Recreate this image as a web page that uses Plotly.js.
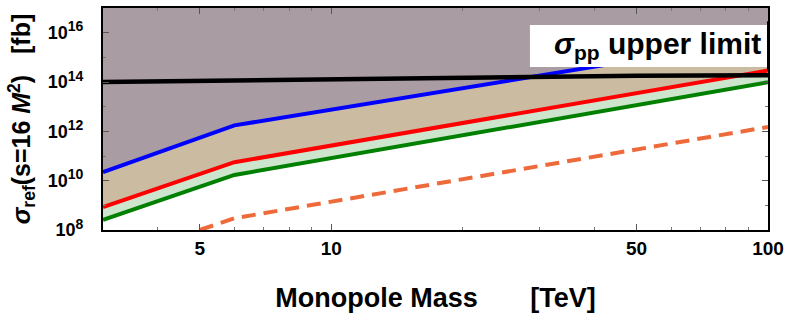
<!DOCTYPE html>
<html>
<head>
<meta charset="utf-8">
<script src="https://cdn.plot.ly/plotly-3.0.1.min.js"></script>
<style>html,body{margin:0;padding:0;background:#fff;} #chart{width:789px;height:314px;}</style>
</head>
<body>
<div id="chart"></div>
<script>
// Monopole mass [TeV]
var mass = [3, 6, 100];
// sigma_ref curves [fb]
var blueVals  = [2.2e10, 1.74e12, 5.9e15];
var redVals   = [8.5e8, 5.6e10, 2.9e14];
var greenVals = [2.6e8, 1.7e10, 9.8e13];
// dashed orange curve
var orangeMass = [5, 6, 100];
var orangeVals = [1.0e8, 3.0e8, 1.5e12];
// sigma_pp upper limit (black)
var limitMass = [3, 6, 10, 15, 25, 50, 100];
var limitVals = [1.0e14, 1.15e14, 1.29e14, 1.41e14, 1.62e14, 1.78e14, 1.86e14];
// axis tick labels
var xTickVals = [5, 10, 50, 100];
var xTickText = ['5', '10', '50', '100'];
var yTickVals = [1e8, 1e10, 1e12, 1e14, 1e16];
var yExponents = ['8', '10', '12', '14', '16'];
var yTop = 1e17;

var FONT = 'Liberation Sans, Arial, Helvetica, sans-serif';
var topVals = mass.map(function(){ return yTop; });
var yTickText = yExponents.map(function(e){ return '10<sup><span style="font-size:14px">' + e + '</span></sup>'; });

var traces = [
  {x: mass, y: topVals, mode: 'lines', line: {width: 0}, hoverinfo: 'skip', showlegend: false},
  {x: mass, y: blueVals, mode: 'lines', fill: 'tonexty', fillcolor: 'rgb(169,156,163)', line: {width: 0}, showlegend: false},
  {x: mass, y: redVals, mode: 'lines', fill: 'tonexty', fillcolor: 'rgb(203,188,161)', line: {width: 0}, showlegend: false},
  {x: mass, y: greenVals, mode: 'lines', fill: 'tonexty', fillcolor: 'rgb(205,228,205)', line: {width: 0}, showlegend: false},
  {x: mass, y: greenVals, mode: 'lines', line: {color: 'rgb(0,128,0)', width: 4}, showlegend: false},
  {x: mass, y: redVals, mode: 'lines', line: {color: 'rgb(255,0,0)', width: 4}, showlegend: false},
  {x: mass, y: blueVals, mode: 'lines', line: {color: 'rgb(0,0,255)', width: 4}, showlegend: false},
  {x: orangeMass, y: orangeVals, mode: 'lines', line: {color: 'rgb(238,106,58)', width: 4, dash: '14px,8px'}, showlegend: false},
  {x: limitMass, y: limitVals, mode: 'lines', line: {color: '#000', width: 4.5}, showlegend: false}
];

var layout = {
  width: 789, height: 314,
  margin: {l: 103, r: 21, t: 8, b: 84},
  paper_bgcolor: '#fff', plot_bgcolor: '#fff',
  font: {family: FONT, color: '#000'},
  showlegend: false,
  xaxis: {
    type: 'log', range: [Math.log10(3), 2],
    showgrid: false, zeroline: false,
    showline: true, linecolor: '#000', linewidth: 2, mirror: 'allticks',
    ticks: 'inside', ticklen: 6, tickwidth: 1, tickcolor: '#555',
    tickmode: 'array', tickvals: xTickVals, ticktext: xTickText,
    ticklabelstandoff: 0,
    tickfont: {family: FONT, size: 19, weight: 'bold', color: '#000'},
    minor: {ticks: 'inside', ticklen: 3, tickcolor: '#777', tickvals: [3,4,6,7,8,9,20,30,40,60,70,80,90], showgrid: false},
    title: {text: 'Monopole Mass\u00a0\u00a0\u00a0\u00a0\u00a0\u00a0\u00a0[TeV]', font: {family: FONT, size: 27, weight: 'bold', color: '#000'}, standoff: 30},
    automargin: false
  },
  yaxis: {
    type: 'log', range: [8, 17],
    showgrid: false, zeroline: false,
    showline: true, linecolor: '#000', linewidth: 2, mirror: 'allticks',
    ticks: 'inside', ticklen: 6, tickwidth: 1, tickcolor: '#555',
    tickmode: 'array', tickvals: yTickVals, ticktext: yTickText,
    ticklabelstandoff: 14,
    tickfont: {family: FONT, size: 18, weight: 'bold', color: '#000'},
    minor: {ticks: 'inside', ticklen: 3, tickcolor: '#777', tickvals: [1e9, 1e11, 1e13, 1e15, 1e17], showgrid: false},
    title: {text: '<i>σ</i><sub>ref</sub>(s=16 <i>M</i><sup>2</sup>)\u00a0\u00a0\u00a0[fb]', font: {family: FONT, size: 25, weight: 'bold', color: '#000'}, standoff: 10},
    automargin: false
  },
  shapes: [
    {type: 'rect', xref: 'paper', yref: 'paper', x0: 0.642, x1: 1.0, y0: 0.734, y1: 0.923, fillcolor: '#fff', line: {width: 0}, layer: 'above'},
    {type: 'line', xref: 'paper', yref: 'paper', x0: 1.0, x1: 1.0, y0: 0.72, y1: 0.94, line: {color: '#000', width: 2}, layer: 'above'}
  ],
  annotations: [
    {xref: 'paper', yref: 'paper', x: 0.834, y: 0.83, xanchor: 'center', yanchor: 'middle', showarrow: false,
     text: '<i>σ</i><sub>pp</sub> upper limit', font: {family: FONT, size: 30, weight: 'bold', color: '#000'}}
  ]
};

Plotly.newPlot('chart', traces, layout, {staticPlot: true, displayModeBar: false});
</script>
</body>
</html>
